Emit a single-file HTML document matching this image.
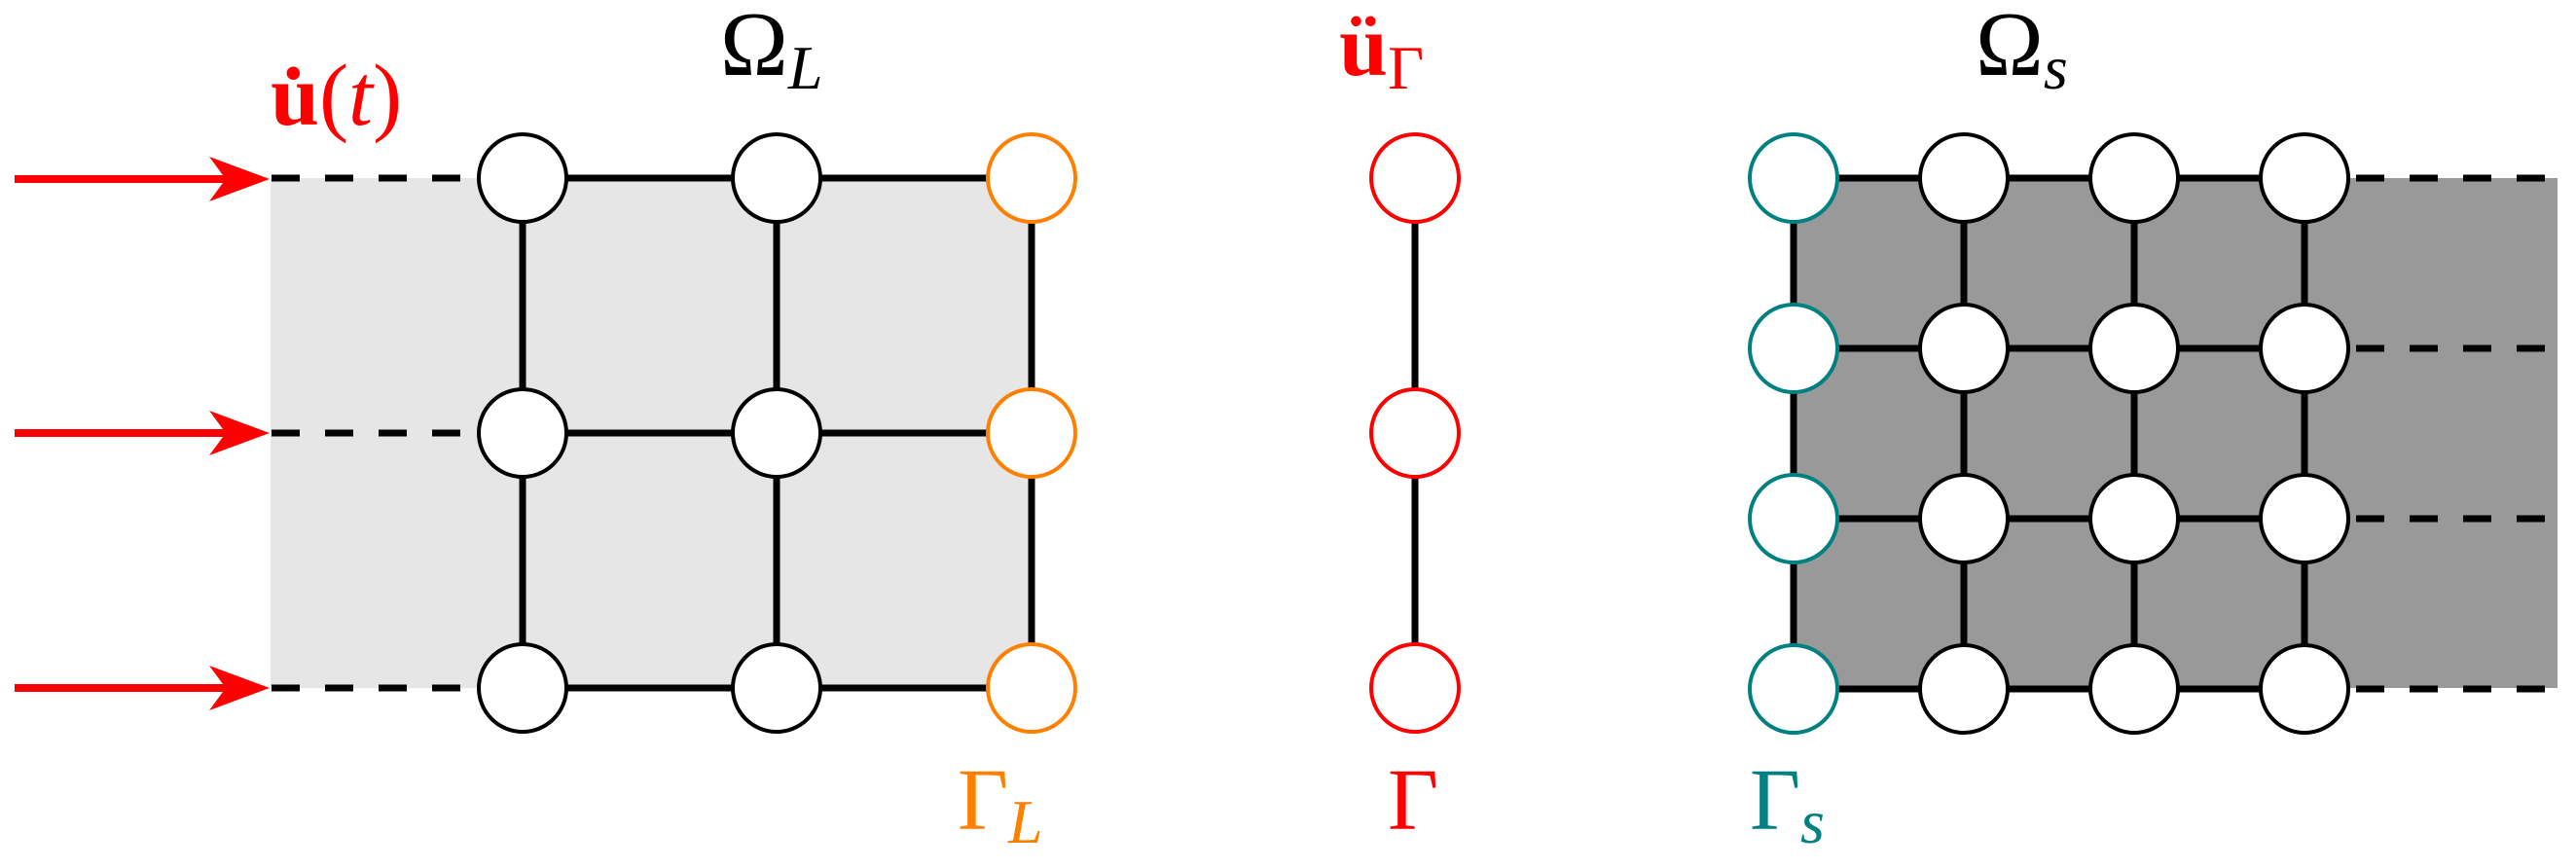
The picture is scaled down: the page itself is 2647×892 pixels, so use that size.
<!DOCTYPE html>
<html><head><meta charset="utf-8"><style>
html,body{margin:0;padding:0;background:#fff;}
svg{display:block;}
text{font-family:"Liberation Serif",serif;}
</style></head><body>
<svg width="2647" height="892" viewBox="0 0 2647 892" xmlns="http://www.w3.org/2000/svg">
<!-- left domain -->
<rect x="278" y="183" width="782" height="524" fill="#e6e6e6"/>
<g stroke="#000" stroke-width="7">
 <line x1="537" y1="183" x2="1060" y2="183"/>
 <line x1="537" y1="445" x2="1060" y2="445"/>
 <line x1="537" y1="707" x2="1060" y2="707"/>
 <line x1="537" y1="183" x2="537" y2="707"/>
 <line x1="798" y1="183" x2="798" y2="707"/>
 <line x1="1060" y1="183" x2="1060" y2="707"/>
 <g stroke-dasharray="29 26">
  <line x1="279" y1="183" x2="478" y2="183"/>
  <line x1="279" y1="445" x2="478" y2="445"/>
  <line x1="279" y1="707" x2="478" y2="707"/>
 </g>
</g>
<g fill="#fff" stroke="#000" stroke-width="4">
 <circle cx="537" cy="183" r="45"/><circle cx="798" cy="183" r="45"/>
 <circle cx="537" cy="445" r="45"/><circle cx="798" cy="445" r="45"/>
 <circle cx="537" cy="707" r="45"/><circle cx="798" cy="707" r="45"/>
</g>
<g fill="#fff" stroke="#ff8000" stroke-width="4">
 <circle cx="1060" cy="183" r="45"/><circle cx="1060" cy="445" r="45"/><circle cx="1060" cy="707" r="45"/>
</g>
<!-- arrows -->
<g fill="#ff0000" stroke="none">
 <rect x="15" y="180" width="220" height="8"/>
 <polygon points="277,184 215,161 232,184 215,207"/>
 <rect x="15" y="441" width="220" height="8"/>
 <polygon points="277,445 215,422 232,445 215,468"/>
 <rect x="15" y="703" width="220" height="8"/>
 <polygon points="277,707 215,684 232,707 215,730"/>
</g>
<!-- middle -->
<line x1="1454" y1="183" x2="1454" y2="707" stroke="#000" stroke-width="7"/>
<g fill="#fff" stroke="#ff0000" stroke-width="4">
 <circle cx="1454" cy="183" r="45"/><circle cx="1454" cy="445" r="45"/><circle cx="1454" cy="707" r="45"/>
</g>
<!-- right domain -->
<rect x="1843" y="183" width="785" height="524" fill="#999999"/>
<g stroke="#000" stroke-width="7">
 <line x1="1843" y1="183" x2="2368" y2="183"/>
 <line x1="1843" y1="358" x2="2368" y2="358"/>
 <line x1="1843" y1="533" x2="2368" y2="533"/>
 <line x1="1843" y1="708" x2="2368" y2="708"/>
 <line x1="1843" y1="183" x2="1843" y2="708"/>
 <line x1="2018" y1="183" x2="2018" y2="708"/>
 <line x1="2193" y1="183" x2="2193" y2="708"/>
 <line x1="2368" y1="183" x2="2368" y2="708"/>
 <g stroke-dasharray="29 26">
  <line x1="2421" y1="183" x2="2620" y2="183"/>
  <line x1="2421" y1="358" x2="2620" y2="358"/>
  <line x1="2421" y1="533" x2="2620" y2="533"/>
  <line x1="2421" y1="708" x2="2620" y2="708"/>
 </g>
</g>
<g fill="#fff" stroke="#000" stroke-width="4">
 <circle cx="2018" cy="183" r="45"/><circle cx="2193" cy="183" r="45"/><circle cx="2368" cy="183" r="45"/>
 <circle cx="2018" cy="358" r="45"/><circle cx="2193" cy="358" r="45"/><circle cx="2368" cy="358" r="45"/>
 <circle cx="2018" cy="533" r="45"/><circle cx="2193" cy="533" r="45"/><circle cx="2368" cy="533" r="45"/>
 <circle cx="2018" cy="708" r="45"/><circle cx="2193" cy="708" r="45"/><circle cx="2368" cy="708" r="45"/>
</g>
<g fill="#fff" stroke="#008080" stroke-width="4">
 <circle cx="1843" cy="183" r="45"/><circle cx="1843" cy="358" r="45"/><circle cx="1843" cy="533" r="45"/><circle cx="1843" cy="708" r="45"/>
</g>
<!-- labels -->
<text x="278" y="128" font-size="90" fill="#ff0000"><tspan font-weight="bold">u̇</tspan>(<tspan font-style="italic">t</tspan>)</text>
<text x="740" y="77" font-size="94" fill="#000">Ω<tspan font-size="64" font-style="italic" dy="14">L</tspan></text>
<text x="1376" y="77" font-size="90" fill="#ff0000"><tspan font-weight="bold">ü</tspan><tspan font-size="64" dy="14">Γ</tspan></text>
<text x="2030" y="77" font-size="94" fill="#000">Ω<tspan font-size="64" font-style="italic" dy="14">s</tspan></text>
<text x="984" y="852" font-size="90" fill="#ff8000">Γ<tspan font-size="64" font-style="italic" dy="14">L</tspan></text>
<text x="1426" y="852" font-size="90" fill="#ff0000">Γ</text>
<text x="1798" y="852" font-size="90" fill="#008080">Γ<tspan font-size="64" font-style="italic" dy="14">s</tspan></text>
</svg>
</body></html>
